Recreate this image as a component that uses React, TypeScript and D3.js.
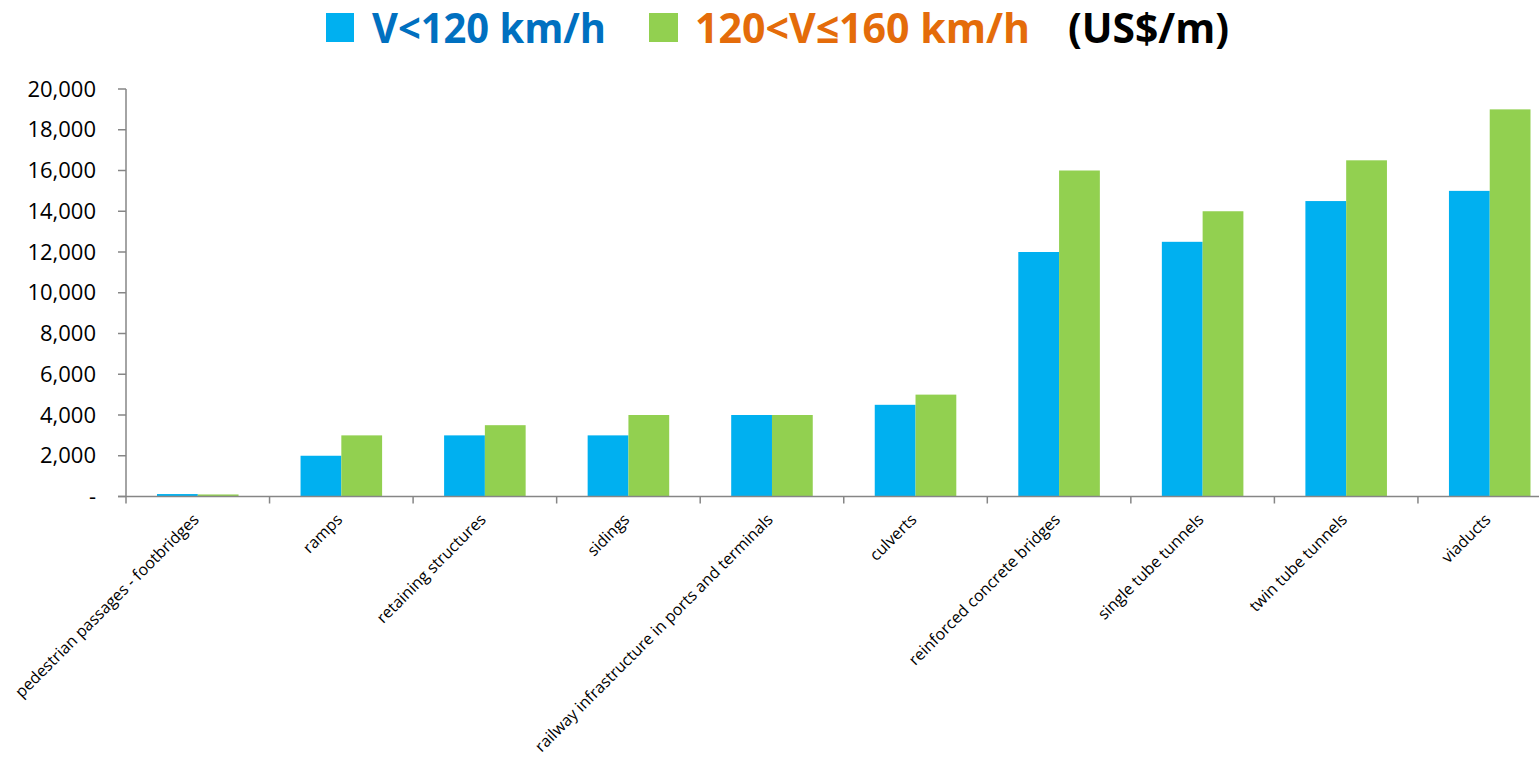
import React from "react";
import * as d3 from "d3";

const categories = [
  "pedestrian passages - footbridges",
  "ramps",
  "retaining structures",
  "sidings",
  "railway infrastructure in ports and terminals",
  "culverts",
  "reinforced concrete bridges",
  "single tube tunnels",
  "twin tube tunnels",
  "viaducts",
];
const seriesLow = [120, 2000, 3000, 3000, 4000, 4500, 12000, 12500, 14500, 15000];
const seriesHigh = [100, 3000, 3500, 4000, 4000, 5000, 16000, 14000, 16500, 19000];
const seriesNames = ["V<120 km/h", "120<V≤160 km/h"];
const yTicks = [0, 2000, 4000, 6000, 8000, 10000, 12000, 14000, 16000, 18000, 20000];

const W = 1539;
const H = 758;
const FONT = "'Open Sans', 'Noto Sans', sans-serif";
const BLUE = "#00B0F0";
const GREEN = "#92D050";
const AXIS = "#868686";

export default function App() {
  const x0 = 126;
  const x1 = 1561.5;
  const yBase = 496.5;
  const yTop = 89;
  const x = d3.scaleBand<string>().domain(categories).range([x0, x1]).paddingInner(0).paddingOuter(0);
  const step = x.step();
  const gap = 31;
  const sub = d3.scaleBand<string>().domain(["a", "b"]).range([gap, step - gap]).padding(0);
  const y = d3.scaleLinear().domain([0, 20000]).range([yBase, yTop]);
  const fmt = d3.format(",");

  const boundaries = d3.range(categories.length + 1).map((i) => x0 + i * step);

  return (
    <svg width={W} height={H} style={{ position: "absolute", left: 0, top: 0 }} fontFamily={FONT}>
      <rect x={0} y={0} width={W} height={H} fill="#fff" />
      {/* Legend / title */}
      <rect x={326} y={13} width={28} height={29} fill={BLUE} />
      <text x={372} y={43} fontSize={41} fontWeight={700} fill="#0070C0" textLength={234} lengthAdjust="spacingAndGlyphs">
        {seriesNames[0]}
      </text>
      <rect x={649} y={13} width={29} height={29} fill={GREEN} />
      <text x={695} y={43} fontSize={41} fontWeight={700} fill="#E46C0A" textLength={335} lengthAdjust="spacingAndGlyphs">
        {seriesNames[1]}
      </text>
      <text x={1068} y={43} fontSize={41} fontWeight={700} fill="#000" textLength={161} lengthAdjust="spacingAndGlyphs">
        (US$/m)
      </text>

      {/* Bars */}
      {categories.map((c, i) => {
        const bx = x(c)!;
        return (
          <g key={c}>
            <rect x={bx + sub("a")!} y={y(seriesLow[i])} width={sub.bandwidth()} height={yBase - y(seriesLow[i])} fill={BLUE} />
            <rect x={bx + sub("b")!} y={y(seriesHigh[i])} width={sub.bandwidth()} height={yBase - y(seriesHigh[i])} fill={GREEN} />
          </g>
        );
      })}

      {/* Y axis */}
      <line x1={x0} x2={x0} y1={yTop} y2={yBase} stroke={AXIS} strokeWidth={1.5} />
      {yTicks.map((t) => (
        <g key={t}>
          <line x1={x0 - 8} x2={x0} y1={y(t)} y2={y(t)} stroke={AXIS} strokeWidth={1.5} />
          <text x={96} y={y(t)} dy="0.35em" fontSize={22} textAnchor="end" fill="#000">
            {t === 0 ? "-" : fmt(t)}
          </text>
        </g>
      ))}

      {/* X axis */}
      <line x1={x0 - 8} x2={x1} y1={yBase} y2={yBase} stroke={AXIS} strokeWidth={1.5} />
      {boundaries.map((b, i) => (
        <line key={i} x1={b} x2={b} y1={yBase} y2={yBase + 7} stroke={AXIS} strokeWidth={1.5} />
      ))}
      {categories.map((c) => {
        const cx = x(c)! + step / 2 + 2;
        const cy = yBase + 24;
        return (
          <text key={c} x={cx} y={cy} fontSize={16} textAnchor="end" fill="#000" transform={`rotate(-45 ${cx} ${cy})`}>
            {c}
          </text>
        );
      })}
    </svg>
  );
}
